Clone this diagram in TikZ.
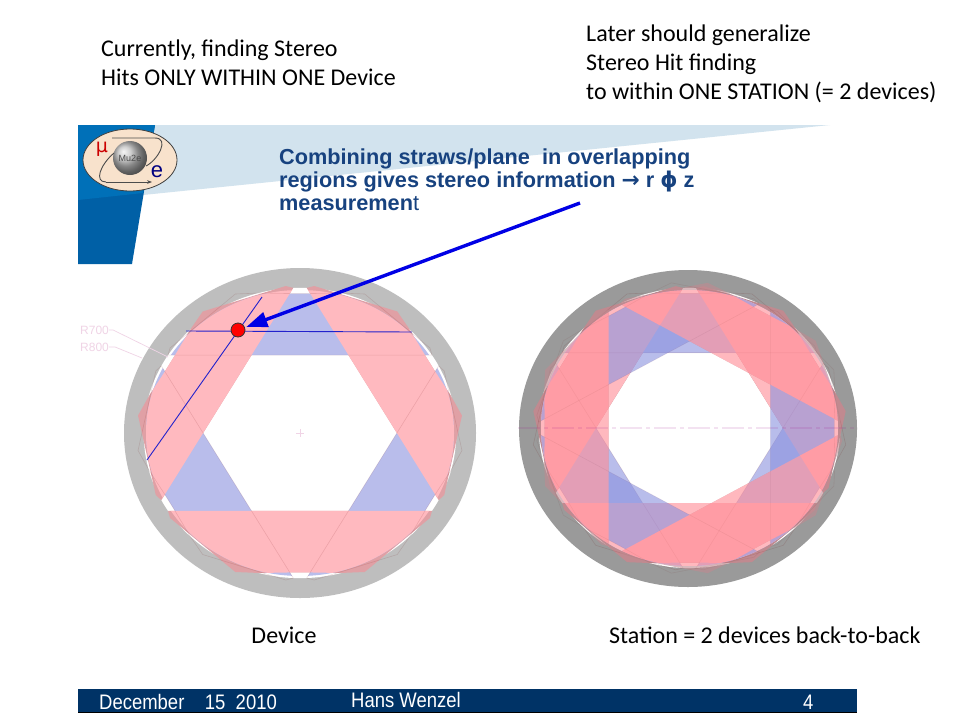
\documentclass[tikz,border=0pt]{standalone}
\usepackage{fontspec}
\usetikzlibrary{arrows.meta,shadings}
\setmainfont{Carlito}
\newfontfamily\headfont{Liberation Sans}
\newfontfamily\symfont{DejaVu Sans}
\definecolor{palepink}{HTML}{FFB9BF}
\definecolor{paleblue}{HTML}{B9BDEB}
\definecolor{strongpink}{HTML}{FF8A94}
\definecolor{strongblue}{HTML}{8A91DE}
\definecolor{toothpink}{HTML}{E0A0A5}
\definecolor{toothdark}{HTML}{C08A90}
\definecolor{ringlight}{HTML}{BEBEBE}
\definecolor{ringdark}{HTML}{9A9A9A}
\definecolor{headblue}{HTML}{0070B8}
\definecolor{headdeep}{HTML}{0060A6}
\definecolor{wedgeblue}{HTML}{D2E3EE}
\definecolor{titleblue}{HTML}{17427F}
\definecolor{footblue}{HTML}{003366}
\definecolor{ghost}{HTML}{F0D4E6}
\definecolor{hitblue}{HTML}{2222CC}
\definecolor{logopeach}{HTML}{F8E2CC}
\tikzset{
  slidetext/.style={font=\fontsize{24}{29}\selectfont,align=left,anchor=west,inner sep=0pt},
  titletext/.style={font=\headfont\bfseries\fontsize{21.7}{23}\selectfont,text=titleblue,align=left,anchor=west,inner sep=0pt},
  foottext/.style={font=\headfont\fontsize{21}{22}\selectfont,text=white,anchor=west,inner sep=0pt,xscale=.88,transform shape},
  ghosttext/.style={font=\headfont\fontsize{12}{12}\selectfont,text=ghost,anchor=west,inner sep=0pt},
  ghostline/.style={draw=ghost,line width=.7pt},
  hitline/.style={draw=hitblue,line width=.9pt},
  panelline/.style={draw=black!60!red,draw opacity=.12,line width=.6pt}
}
\newcommand{\panelpath}{(-85.7,54.5) -- (-84.4,59.4) -- (-42,97.2) -- (-26,97.9) -- (-6,97.5) -- (6,97.5) -- (26,97.9) -- (42,97.2) -- (84.4,59.4) -- (85.7,54.5) -- cycle}
\newcommand{\devicepanels}[3]{%
  \foreach \a in {0,120,240} {\fill[#3,rotate=\a] \panelpath;}
  \begin{scope}
    \clip (0,0) circle (100);
    \foreach \a in {0,120,240} {\fill[#2,rotate=\a+180] \panelpath;}
    \foreach \a in {0,120,240} {\fill[#1,rotate=\a] \panelpath;}
  \end{scope}
  \foreach \a in {0,120,240} {\draw[panelline,rotate=\a+180] \panelpath;}
}
\begin{document}
\begin{tikzpicture}[x=1pt,y=-1pt]
  \useasboundingbox (0,0) rectangle (960,720);
  \fill[white] (0,0) rectangle (960,720);

  % banner
  \fill[wedgeblue] (150,125) -- (830,125) -- (143,195) -- cycle;
  \fill[headdeep] (78,125) -- (155,125) -- (132,264) -- (78,264) -- cycle;
  \fill[headblue] (78,125) -- (155,125) -- (143,193) -- (78,200) -- cycle;

  % logo
  \draw[fill=logopeach,draw=black!75,line width=.8pt] (130,160) ellipse (47 and 31);
  \shade[ball color=black!25] (130,158) circle (17);
  \draw[black!70,line width=.9pt] (112,138) -- (155,138) .. controls (170,138) and (158,160) .. (146,166);
  \draw[black!70,line width=.9pt] (114,153) .. controls (100,165) and (94,182) .. (106,182);
  \draw[black!70,line width=.9pt,-{Stealth[length=5pt]}] (106,182) -- (152,182);
  \node[font=\headfont\fontsize{9}{9}\selectfont,text=black!70,inner sep=0pt] (logomu2e) at (130,158) {Mu2e};
  \node[font=\symfont\fontsize{19}{19}\selectfont,text=red!80!black,inner sep=0pt] (logomuon) at (102,149) {μ};
  \node[font=\headfont\fontsize{22}{22}\selectfont,text=blue!50!black,inner sep=0pt] (logoe) at (157,172) {e};

  % title and notes
  \node[titletext] (title) at (279,180) {Combining straws/plane\ \ in overlapping\\regions gives stereo information {\symfont →} r {\symfont ϕ} z\\measuremen{\mdseries t}};
  \node[slidetext] (noteleft) at (101,62.5) {Currently, finding Stereo\\Hits ONLY WITHIN ONE Device};
  \node[slidetext] (noteright) at (586,64) {Later should generalize\\Stereo Hit finding\\to within ONE STATION (= 2 devices)};
  \node[slidetext,anchor=center] (devicelabel) at (284,635) {Device};
  \node[slidetext] (stationlabel) at (609,635) {Station = 2 devices back-to-back};

  % device
  \fill[ringlight] (300,433) ellipse (176 and 165);
  \begin{scope}[shift={(300,433)},xscale=1.54,yscale=1.43]
    \fill[white] (0,0) circle (101.5);
    \devicepanels{palepink}{paleblue}{toothpink}
  \end{scope}
  \draw[ghost,line width=.5pt] (296,433) -- (304,433) (300,429) -- (300,437);
  \node[ghosttext] (rseven) at (80,330) {R700};
  \node[ghosttext] (reight) at (80,347) {R800};
  \coordinate (rsevenend) at (168,357);
  \coordinate (reightend) at (142,358);
  \draw[ghostline] (rseven.east) -- ++(4,0) -- (rsevenend);
  \draw[ghostline] (reight.east) -- ++(6,0) -- (reightend);

  % hit
  \coordinate (hstart) at (186,331);
  \coordinate (hend) at (412,332);
  \coordinate (dstart) at (262,297);
  \coordinate (dend) at (147,460);
  \coordinate (arrowstart) at (580,203);
  \draw[hitline] (hstart) -- (hend);
  \draw[hitline] (dstart) -- (dend);
  \node[circle,fill=red,draw=black!80,line width=.8pt,minimum size=14pt,inner sep=0pt] (hitdot) at (238,330) {};
  \draw[blue!90!black,line width=3.4pt,-{Triangle[length=21pt,width=15pt]},shorten >=1.5pt] (arrowstart) -- (hitdot);

  % station
  \fill[ringdark] (688,428.5) ellipse (169 and 158.5);
  \begin{scope}[shift={(689.5,428)},xscale=1.485,yscale=1.38]
    \fill[white] (0,0) circle (101.5);
    \devicepanels{palepink}{paleblue}{toothdark}
    \begin{scope}[transparency group,opacity=.6]
      \begin{scope}[rotate=-90]
        \devicepanels{strongpink}{strongblue}{toothdark}
      \end{scope}
    \end{scope}
  \end{scope}
  \draw[magenta!60!blue,draw opacity=.12,line width=1.2pt,dash pattern=on 22pt off 4pt on 4pt off 4pt] (518,428) -- (856,428);

  % footer
  \fill[footblue] (78,689) rectangle (857,712);
  \fill[black] (78,711.5) rectangle (857,712.5);
  \node[foottext] (footdate) at (99,702) {December\ \ \ \ 15\ \ 2010};
  \node[foottext] (footname) at (351,700) {Hans Wenzel};
  \node[foottext] (footpage) at (803,702) {4};
\end{tikzpicture}
\end{document}
